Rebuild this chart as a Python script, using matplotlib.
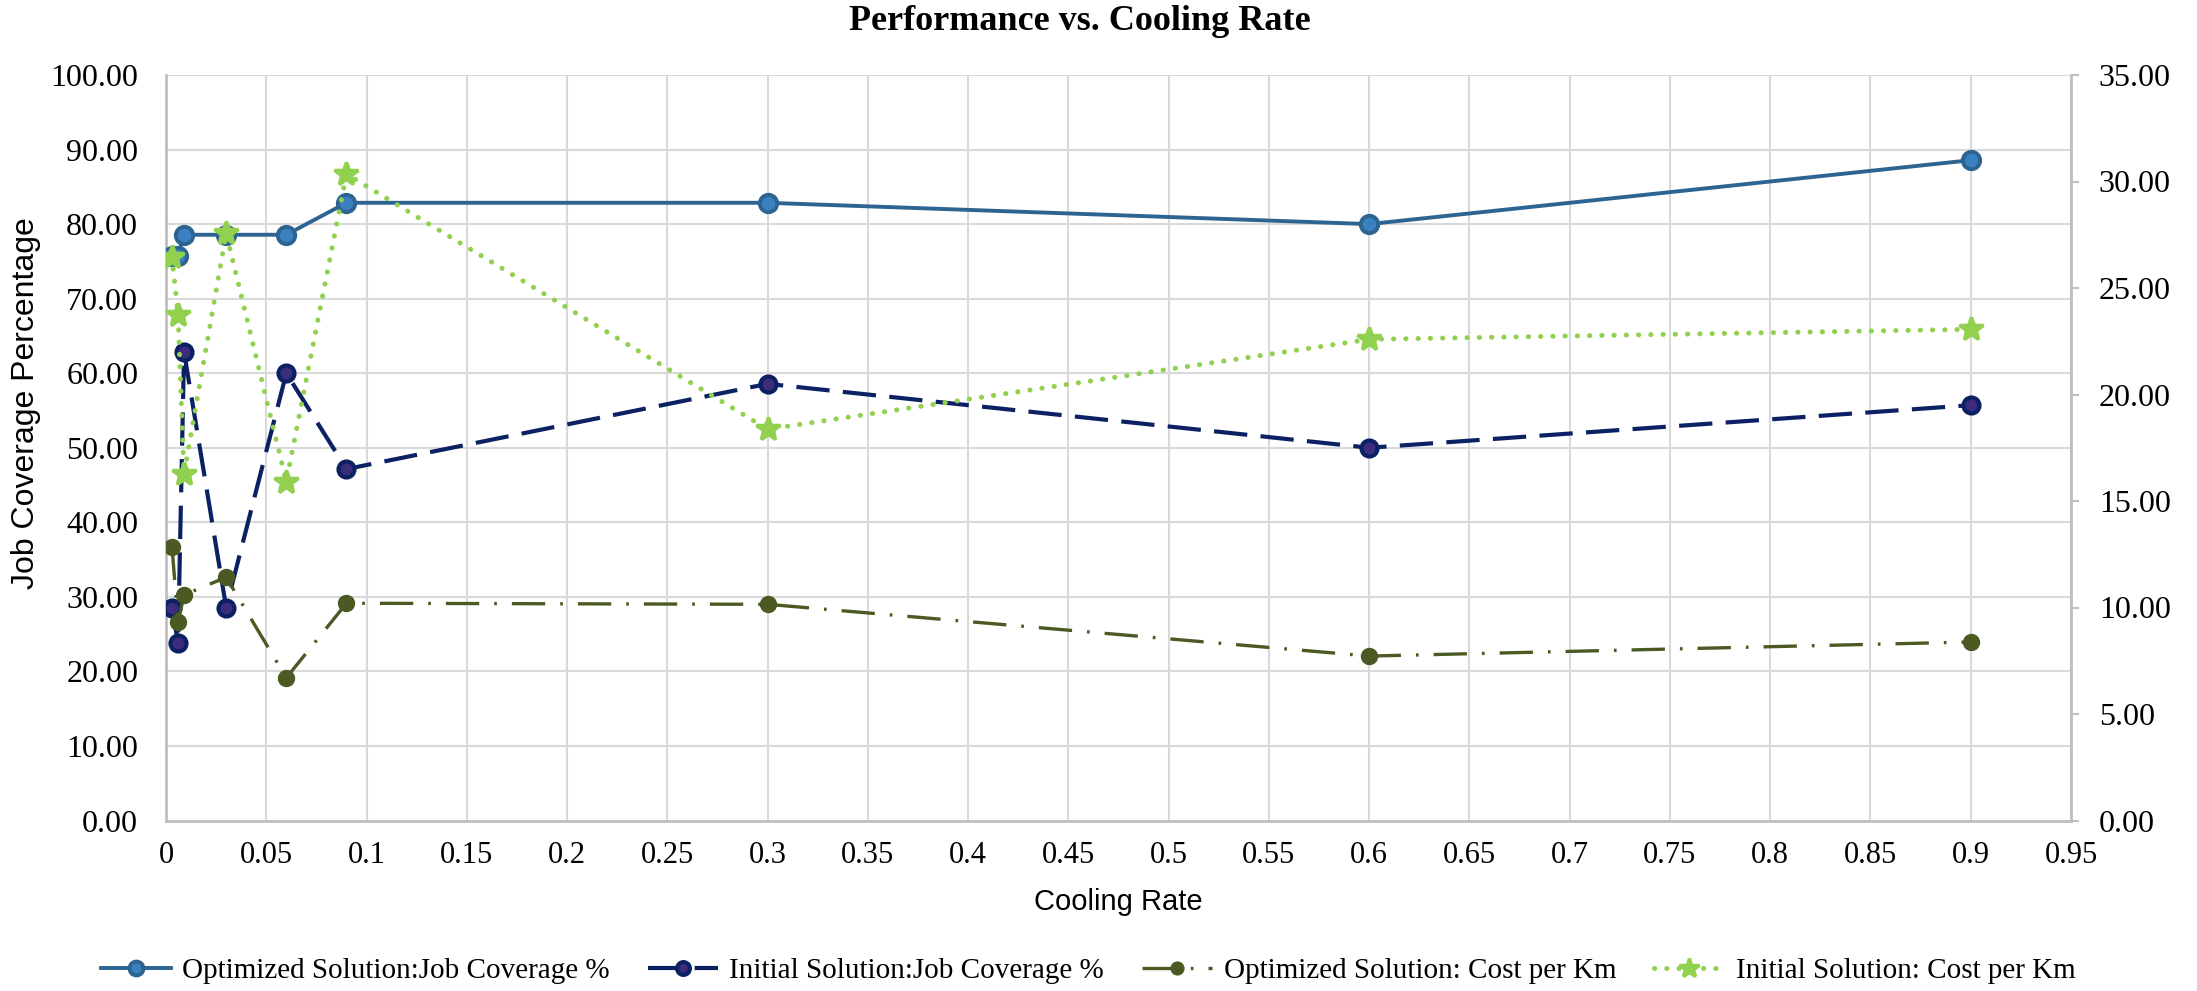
import matplotlib
matplotlib.use("Agg")
import matplotlib.pyplot as plt
from matplotlib.ticker import MultipleLocator, FuncFormatter

# ---- data ----
cooling_rate = [0.003, 0.006, 0.009, 0.03, 0.06, 0.09, 0.3, 0.6, 0.9]
opt_coverage = [75.71, 75.71, 78.57, 78.57, 78.57, 82.86, 82.86, 80.00, 88.57]
init_coverage = [28.57, 23.81, 62.86, 28.57, 60.00, 47.14, 58.57, 50.00, 55.71]
opt_cost = [12.85, 9.30, 10.59, 11.42, 6.70, 10.20, 10.15, 7.72, 8.38]
init_cost = [26.47, 23.73, 16.27, 27.57, 15.91, 30.35, 18.37, 22.59, 23.06]

labels = ["Optimized Solution:Job Coverage %", "Initial Solution:Job Coverage %",
          "Optimized Solution: Cost per Km", "Initial Solution: Cost per Km"]

serif = "Liberation Serif"
sans = "Liberation Sans"

fig = plt.figure(figsize=(21.97, 9.91), dpi=100)
ax = fig.add_axes([166/2197, 1-820.5/991, (2071-166)/2197, (820.5-75)/991])
ax2 = ax.twinx()

c_blue, c_blue_face = "#2d6492", "#3b80c0"
c_navy, c_navy_face = "#0c2163", "#3d2c7c"
c_olive = "#4a5a22"
c_lg = "#92d050"

l1, = ax.plot(cooling_rate, opt_coverage, color=c_blue, lw=2.8, marker="o", ms=12.5,
              mfc=c_blue_face, mec=c_blue, mew=2.8, zorder=3)
l2, = ax.plot(cooling_rate, init_coverage, color=c_navy, lw=3.0, ls=(0, (8, 3.2)),
              marker="o", ms=11.5, mfc=c_navy_face, mec=c_navy, mew=3, zorder=3)
l3, = ax2.plot(cooling_rate, opt_cost, color=c_olive, lw=2.4, ls=(0, (10, 4.5, 0.8, 4.5)),
               marker="o", ms=11.5, mfc=c_olive, mec=c_olive, zorder=3)
l4, = ax2.plot(cooling_rate, init_cost, color=c_lg, lw=3.6, ls=(0, (0.05, 2.4)),
               dash_capstyle="round", marker="*", ms=18, mfc=c_lg, mec=c_lg, mew=2.5, zorder=3)

ax.set_xlim(0, 0.95)
ax.set_ylim(0, 100)
ax2.set_ylim(0, 35)
ax.xaxis.set_major_locator(MultipleLocator(0.05))
ax.yaxis.set_major_locator(MultipleLocator(10))
ax2.yaxis.set_major_locator(MultipleLocator(5))
ax.xaxis.set_major_formatter(FuncFormatter(lambda v, p: "%g" % round(v, 2)))
ax.yaxis.set_major_formatter(FuncFormatter(lambda v, p: "%.2f" % v))
ax2.yaxis.set_major_formatter(FuncFormatter(lambda v, p: "%.2f" % v))

ax.grid(True, color="#d9d9d9", lw=1.5)
ax.set_axisbelow(True)
for a in (ax, ax2):
    a.spines["top"].set_visible(False)
    for s in ("left", "bottom", "right"):
        a.spines[s].set_color("#bfbfbf")
        a.spines[s].set_linewidth(2)
ax.spines["right"].set_visible(False)
ax2.spines["left"].set_visible(False)
ax2.spines["bottom"].set_visible(False)

ax.tick_params(axis="y", length=0, pad=20, labelsize=23)
ax.tick_params(axis="x", length=0, pad=15, labelsize=22)
ax2.tick_params(axis="y", length=6, width=1.5, color="#bfbfbf", pad=14, labelsize=23)
for t in ax.get_yticklabels() + ax2.get_yticklabels() + ax.get_xticklabels():
    t.set_fontfamily(serif)

ax.set_xlabel("Cooling Rate", fontsize=21, family=sans, labelpad=13)
ax.set_ylabel("Job Coverage Percentage", fontsize=23, family=sans)
ax.yaxis.set_label_coords(-0.0656, 0.56)

fig.text(1080/2197, 1-21/991, "Performance vs. Cooling Rate", ha="center", va="center",
         fontsize=26, fontweight="bold", family=serif)

fig.legend([l1, l2, l3, l4], labels, loc="center", bbox_to_anchor=(1088/2197, 1-971/991),
           ncol=4, frameon=False, prop={"family": serif, "size": 21},
           handlelength=2.4, columnspacing=1.3, handletextpad=0.4, markerscale=0.8)

fig.savefig("out.png", dpi=100)
